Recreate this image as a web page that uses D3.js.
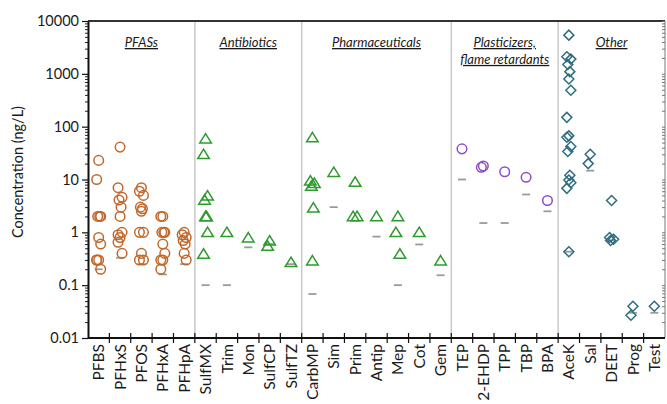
<!DOCTYPE html>
<html lang="en">
<head>
<meta charset="UTF-8">
<title>Concentrations</title>
<script src="https://cdn.jsdelivr.net/npm/d3@7"></script>
<style>
  body { margin: 0; background: #fff; }
  text { font-family: Lato, "Open Sans", sans-serif; fill: #1a1a1a; }
</style>
</head>
<body>
<svg id="chart" width="667" height="404"></svg>
<script>
// categories, in plotting order
const categories = ['PFBS', 'PFHxS', 'PFOS', 'PFHxA', 'PFHpA',
  'SulfMX', 'Trim', 'Mon', 'SulfCP', 'SulfTZ',
  'CarbMP', 'Sim', 'Prim', 'Antip', 'Mep', 'Cot', 'Gem',
  'TEP', '2-EHDP', 'TPP', 'TBP', 'BPA',
  'AceK', 'Sal', 'DEET', 'Prog', 'Test'];

const groupNames = [['PFASs'], ['Antibiotics'], ['Pharmaceuticals'], ['Plasticizers,', 'flame retardants'], ['Other']];
const groupSizes = [5, 5, 7, 5, 5];
const groupShapes = ['circle', 'triangle', 'triangle', 'circle', 'diamond'];
const groupColors = ['#c0682c', '#2e9a2e', '#2e9a2e', '#8f4bc6', '#2f6d80'];

// measured concentrations (ng/L), one list per category
const values = [
  [23, 10, 2, 2, 2, 0.8, 0.6, 0.3, 0.3, 0.3, 0.2],
  [41, 7, 4.6, 4.1, 3, 2, 1, 0.9, 0.8, 0.65, 0.4],
  [7, 6, 5, 3, 2.8, 2.5, 1, 1, 0.4, 0.3, 0.3],
  [2, 2, 1, 1, 1, 0.6, 0.4, 0.3, 0.3, 0.2],
  [1, 0.9, 0.8, 0.7, 0.6, 0.4, 0.3],
  [59, 30, 4.9, 4.1, 2, 2, 1, 0.39],
  [1],
  [0.79],
  [0.69, 0.55],
  [0.27],
  [62, 9.4, 8.5, 7.5, 2.9, 0.29],
  [13.7],
  [8.9, 2, 2],
  [2],
  [2, 1, 0.39],
  [1],
  [0.29],
  [38],
  [18, 17],
  [14],
  [11],
  [4],
  [5400, 2100, 1900, 1500, 1100, 800, 490, 150, 67, 63, 42, 34, 12, 9.8, 8.7, 6.8, 0.43],
  [30, 20],
  [4, 0.8, 0.74, 0.7],
  [0.04, 0.027],
  [0.04]
];

// limit of quantification per category (null = not shown)
const loq = [0.2, 0.33, 0.25, 0.16, 0.25,
  0.1, 0.1, 0.52, 0.6, 0.25,
  0.068, 3, null, 0.83, 0.1, 0.59, 0.154,
  10, 1.5, 1.5, 5.2, 2.5,
  0.43, 14.7, 0.7, 0.03, 0.03];

const yTicks = [0.01, 0.1, 1, 10, 100, 1000, 10000];
const yTickLabels = ['0.01', '0.1', '1', '10', '100', '1000', '10000'];

const svg = d3.select('#chart');
const pLeft = 88, pRight = 665, pTop = 21, pBottom = 338;

const x = d3.scaleBand().domain(categories).range([pLeft, pRight]).padding(0);
const y = d3.scaleLog().domain([0.01, 10000]).range([pBottom, pTop]);

// group index for every category
let groupOf = [];
groupSizes.forEach((n, g) => { for (let i = 0; i < n; i++) groupOf.push(g); });

// first category of each group
let startIdx = 0;
let groupStart = [];
groupSizes.forEach(n => { groupStart.push(startIdx); startIdx += n; });

// group separators
svg.selectAll('line.sep').data(groupStart.slice(1)).enter()
  .append('line').attr('class', 'sep')
  .attr('x1', d => x(categories[d])).attr('x2', d => x(categories[d]))
  .attr('y1', pTop).attr('y2', pBottom)
  .attr('stroke', '#c9c9c9').attr('stroke-width', 1.5);

// frame: top and right
svg.append('line').attr('x1', pLeft).attr('x2', pRight).attr('y1', pTop).attr('y2', pTop)
  .attr('stroke', '#333').attr('stroke-width', 2);
svg.append('line').attr('x1', pRight).attr('x2', pRight).attr('y1', pTop).attr('y2', pBottom)
  .attr('stroke', '#777').attr('stroke-width', 1);

// minor log ticks
let minor = [];
yTicks.slice(0, -1).forEach(t => { for (let k = 2; k <= 9; k++) minor.push(t * k); });

svg.append('g').attr('transform', `translate(${pRight},0)`)
  .call(d3.axisRight(y).tickValues(minor.concat(yTicks)).tickSize(-3).tickFormat(''))
  .call(g => g.select('.domain').remove())
  .selectAll('line').attr('stroke', '#777');

svg.append('g').attr('transform', `translate(${pLeft},0)`)
  .call(d3.axisLeft(y).tickValues(minor).tickSize(3).tickFormat(''))
  .call(g => g.select('.domain').remove())
  .selectAll('line').attr('stroke', '#222');

const yAxis = svg.append('g').attr('transform', `translate(${pLeft},0)`)
  .call(d3.axisLeft(y).tickValues(yTicks).tickSize(6).tickSizeOuter(0)
    .tickFormat((d, i) => yTickLabels[i]));
yAxis.select('.domain').attr('stroke', '#111').attr('stroke-width', 2);
yAxis.selectAll('line').attr('stroke', '#111').attr('stroke-width', 1.2);
yAxis.selectAll('text').attr('x', -9).style('font-size', '14.5px').style('font-family', 'Lato, sans-serif').attr('fill', '#1a1a1a');

svg.append('text')
  .attr('transform', `translate(18,172) rotate(-90)`)
  .attr('text-anchor', 'middle').attr('dy', '0.35em')
  .style('font-size', '14.5px')
  .text('Concentration (ng/L)');

// bottom axis
svg.append('line').attr('x1', pLeft).attr('x2', pRight).attr('y1', pBottom).attr('y2', pBottom)
  .attr('stroke', '#111').attr('stroke-width', 2);
svg.selectAll('line.xt').data(categories.slice(1)).enter()
  .append('line').attr('class', 'xt')
  .attr('x1', d => x(d)).attr('x2', d => x(d))
  .attr('y1', pBottom - 5).attr('y2', pBottom + 5)
  .attr('stroke', '#111').attr('stroke-width', 1.2);

svg.selectAll('text.xl').data(categories).enter()
  .append('text').attr('class', 'xl')
  .attr('transform', d => `translate(${x(d) + x.bandwidth() / 2},${pBottom + 6}) rotate(-90)`)
  .attr('text-anchor', 'end').attr('dy', '0.36em')
  .style('font-size', '15.5px')
  .text(d => d);

// group titles
svg.selectAll('text.gt').data(groupNames).enter()
  .append('text').attr('class', 'gt')
  .attr('x', (d, g) => {
    const a = x(categories[groupStart[g]]);
    const b = x(categories[groupStart[g] + groupSizes[g] - 1]) + x.bandwidth();
    return (a + b) / 2;
  })
  .attr('y', 47)
  .attr('text-anchor', 'middle')
  .style('font-size', '13px').style('font-style', 'italic')
  .style('text-decoration', 'underline')
  .each(function (lines) {
    const t = d3.select(this);
    lines.forEach((s, i) => t.append('tspan').attr('x', t.attr('x')).attr('dy', i ? '1.3em' : 0).text(s));
  });

// LOQ dashes
svg.selectAll('line.loq').data(categories.map((c, i) => ({c: c, v: loq[i]})).filter(d => d.v != null))
  .enter().append('line').attr('class', 'loq')
  .attr('x1', d => x(d.c) + x.bandwidth() / 2 - 4)
  .attr('x2', d => x(d.c) + x.bandwidth() / 2 + 4)
  .attr('y1', d => y(d.v)).attr('y2', d => y(d.v))
  .attr('stroke', '#9a9a9a').attr('stroke-width', 1.8);

// points
let pts = [];
categories.forEach((c, i) => {
  values[i].forEach((v, j) => pts.push({c: c, v: v, g: groupOf[i], j: j}));
});
const jit = [0, -2, 2, -1, 1, 0, 2, -2];
const shapePath = {
  triangle: 'M0,-5.2L5.8,4.2L-5.8,4.2Z',
  diamond: 'M0,-5L5,0L0,5L-5,0Z'
};

svg.selectAll('.pt').data(pts).enter()
  .append(d => document.createElementNS('http://www.w3.org/2000/svg',
    groupShapes[d.g] == 'circle' ? 'circle' : 'path'))
  .attr('class', 'pt')
  .each(function (d) {
    const cx = x(d.c) + x.bandwidth() / 2 + jit[d.j % jit.length];
    const cy = y(d.v);
    const el = d3.select(this);
    if (groupShapes[d.g] == 'circle') {
      el.attr('cx', cx).attr('cy', cy).attr('r', 4.8);
    } else {
      el.attr('d', shapePath[groupShapes[d.g]]).attr('transform', `translate(${cx},${cy})`);
    }
    el.attr('fill', 'none').attr('stroke', groupColors[d.g]).attr('stroke-width', 1.5);
  });
</script>
</body>
</html>
